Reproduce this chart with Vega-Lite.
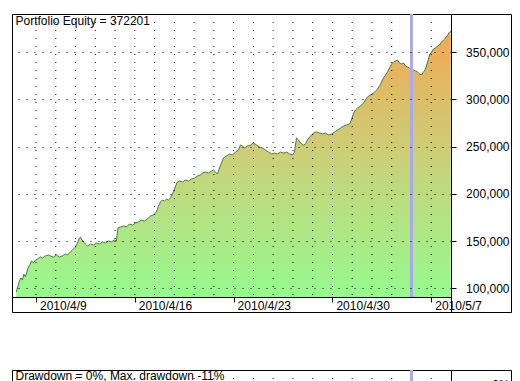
{
  "$schema": "https://vega.github.io/schema/vega-lite/v6.json",
  "background": "white",
  "padding": {"left": 11, "top": 12, "right": 0, "bottom": 0},
  "datasets": {
    "equity": [
      {"t": -1.0, "v": 96300}, {"t": -0.942, "v": 100500}, {"t": -0.84, "v": 107900}, {"t": -0.764, "v": 111100},
      {"t": -0.688, "v": 109000}, {"t": -0.613, "v": 115300}, {"t": -0.537, "v": 112200}, {"t": -0.435, "v": 119600},
      {"t": -0.359, "v": 123800}, {"t": -0.283, "v": 125900}, {"t": -0.233, "v": 129100}, {"t": -0.132, "v": 127000},
      {"t": -0.03, "v": 130100}, {"t": 0.071, "v": 131200}, {"t": 0.223, "v": 133300}, {"t": 0.324, "v": 132200},
      {"t": 0.476, "v": 134400}, {"t": 0.628, "v": 135400}, {"t": 0.729, "v": 134400}, {"t": 0.881, "v": 133300},
      {"t": 1.033, "v": 135400}, {"t": 1.185, "v": 133300}, {"t": 1.336, "v": 134400}, {"t": 1.488, "v": 136500},
      {"t": 1.589, "v": 135400}, {"t": 1.741, "v": 138600}, {"t": 1.843, "v": 140700}, {"t": 1.994, "v": 143900},
      {"t": 2.096, "v": 148100}, {"t": 2.197, "v": 153400}, {"t": 2.248, "v": 154400}, {"t": 2.298, "v": 152300},
      {"t": 2.399, "v": 149200}, {"t": 2.501, "v": 147000}, {"t": 2.602, "v": 144900}, {"t": 2.754, "v": 147000},
      {"t": 2.906, "v": 146000}, {"t": 3.057, "v": 148100}, {"t": 3.209, "v": 147000}, {"t": 3.361, "v": 149200},
      {"t": 3.513, "v": 148100}, {"t": 3.665, "v": 150200}, {"t": 3.817, "v": 149200}, {"t": 3.969, "v": 151300},
      {"t": 4.07, "v": 150200}, {"t": 4.146, "v": 164000}, {"t": 4.272, "v": 165000}, {"t": 4.424, "v": 166100},
      {"t": 4.576, "v": 165000}, {"t": 4.728, "v": 168200}, {"t": 4.88, "v": 167100}, {"t": 5.032, "v": 169200},
      {"t": 5.183, "v": 170300}, {"t": 5.335, "v": 172400}, {"t": 5.487, "v": 171400}, {"t": 5.639, "v": 173500},
      {"t": 5.791, "v": 176600}, {"t": 5.943, "v": 177700}, {"t": 6.095, "v": 180900}, {"t": 6.196, "v": 187200},
      {"t": 6.297, "v": 191400}, {"t": 6.399, "v": 193600}, {"t": 6.5, "v": 192500}, {"t": 6.601, "v": 194600},
      {"t": 6.702, "v": 193600}, {"t": 6.803, "v": 195700}, {"t": 6.905, "v": 199900}, {"t": 7.006, "v": 205200},
      {"t": 7.107, "v": 210500}, {"t": 7.158, "v": 212600}, {"t": 7.259, "v": 213600}, {"t": 7.411, "v": 212600},
      {"t": 7.563, "v": 214700}, {"t": 7.714, "v": 213600}, {"t": 7.866, "v": 215800}, {"t": 8.018, "v": 216800},
      {"t": 8.17, "v": 218900}, {"t": 8.322, "v": 220000}, {"t": 8.423, "v": 222100}, {"t": 8.575, "v": 223200},
      {"t": 8.727, "v": 222100}, {"t": 8.879, "v": 224200}, {"t": 8.98, "v": 225300}, {"t": 9.081, "v": 223200},
      {"t": 9.182, "v": 221000}, {"t": 9.284, "v": 227400}, {"t": 9.385, "v": 232700}, {"t": 9.486, "v": 238000},
      {"t": 9.638, "v": 240100}, {"t": 9.79, "v": 242200}, {"t": 9.942, "v": 241100}, {"t": 10.094, "v": 244300},
      {"t": 10.245, "v": 246400}, {"t": 10.347, "v": 251700}, {"t": 10.448, "v": 250700}, {"t": 10.549, "v": 248500},
      {"t": 10.701, "v": 250700}, {"t": 10.853, "v": 251700}, {"t": 11.005, "v": 253800}, {"t": 11.157, "v": 251700},
      {"t": 11.309, "v": 249600}, {"t": 11.46, "v": 248500}, {"t": 11.612, "v": 246400}, {"t": 11.764, "v": 244300},
      {"t": 11.916, "v": 242200}, {"t": 12.068, "v": 243200}, {"t": 12.22, "v": 242200}, {"t": 12.372, "v": 244300},
      {"t": 12.523, "v": 243200}, {"t": 12.675, "v": 244300}, {"t": 12.827, "v": 242200}, {"t": 12.979, "v": 241100},
      {"t": 13.08, "v": 244300}, {"t": 13.181, "v": 259100}, {"t": 13.283, "v": 257000}, {"t": 13.384, "v": 253800},
      {"t": 13.536, "v": 251700}, {"t": 13.637, "v": 252800}, {"t": 13.738, "v": 257000}, {"t": 13.89, "v": 261200},
      {"t": 14.042, "v": 264400}, {"t": 14.194, "v": 265500}, {"t": 14.346, "v": 264400}, {"t": 14.498, "v": 263300},
      {"t": 14.65, "v": 264400}, {"t": 14.801, "v": 262300}, {"t": 14.953, "v": 263300}, {"t": 15.105, "v": 265500},
      {"t": 15.257, "v": 267600}, {"t": 15.409, "v": 269700}, {"t": 15.561, "v": 271800}, {"t": 15.713, "v": 272900},
      {"t": 15.864, "v": 273900}, {"t": 15.966, "v": 278100}, {"t": 16.067, "v": 285500}, {"t": 16.168, "v": 288700},
      {"t": 16.269, "v": 290800}, {"t": 16.421, "v": 292900}, {"t": 16.573, "v": 296100}, {"t": 16.674, "v": 299300},
      {"t": 16.775, "v": 302500}, {"t": 16.927, "v": 304600}, {"t": 17.079, "v": 306700}, {"t": 17.18, "v": 308800},
      {"t": 17.281, "v": 310900}, {"t": 17.383, "v": 314100}, {"t": 17.484, "v": 318300}, {"t": 17.585, "v": 322500},
      {"t": 17.686, "v": 325700}, {"t": 17.788, "v": 328900}, {"t": 17.889, "v": 333100}, {"t": 17.99, "v": 337300},
      {"t": 18.091, "v": 339500}, {"t": 18.192, "v": 340500}, {"t": 18.294, "v": 341600}, {"t": 18.395, "v": 338400},
      {"t": 18.496, "v": 337300}, {"t": 18.598, "v": 338400}, {"t": 18.699, "v": 335200}, {"t": 18.8, "v": 334200},
      {"t": 18.901, "v": 333100}, {"t": 19.003, "v": 332100}, {"t": 19.104, "v": 331000}, {"t": 19.205, "v": 329900},
      {"t": 19.306, "v": 328900}, {"t": 19.408, "v": 326800}, {"t": 19.509, "v": 325700}, {"t": 19.61, "v": 328900},
      {"t": 19.711, "v": 332100}, {"t": 19.813, "v": 339500}, {"t": 19.914, "v": 346900}, {"t": 20.015, "v": 350000},
      {"t": 20.116, "v": 353200}, {"t": 20.218, "v": 354300}, {"t": 20.319, "v": 356400}, {"t": 20.42, "v": 357400},
      {"t": 20.521, "v": 360600}, {"t": 20.622, "v": 362700}, {"t": 20.724, "v": 364800}, {"t": 20.825, "v": 368000},
      {"t": 20.926, "v": 371200}, {"t": 20.99, "v": 372201}
    ],
    "days": [
      {"t": 0}, {"t": 1}, {"t": 2}, {"t": 3}, {"t": 4}, {"t": 5}, {"t": 6}, {"t": 7}, {"t": 8}, {"t": 9}, {"t": 10},
      {"t": 11}, {"t": 12}, {"t": 13}, {"t": 14}, {"t": 15}, {"t": 16}, {"t": 17}, {"t": 18}, {"t": 19}, {"t": 20}
    ],
    "marker": [{"t": 19}],
    "mainTitle": [{"label": "Portfolio Equity = 372201"}],
    "ddTitle": [{"label": "Drawdown = 0%, Max. drawdown -11%"}],
    "blank": [{"x": 0, "y": 0}]
  },
  "config": {
    "font": "Liberation Sans",
    "view": {"stroke": "black", "strokeWidth": 1},
    "axis": {
      "labelFontSize": 12, "labelColor": "black", "labelFont": "Liberation Sans",
      "tickColor": "black", "tickWidth": 1, "gridColor": "black", "gridDash": [1, 7],
      "gridOpacity": 1, "gridWidth": 1, "domain": false
    }
  },
  "concat": [
    {
      "width": 439,
      "height": 298,
      "layer": [
        {
          "data": {"name": "equity"},
          "mark": {"type": "area", "color": {"gradient": "linear", "x1": 0, "y1": 0, "x2": 0, "y2": 1, "stops": [{"offset": 0, "color": "#f2a855"}, {"offset": 0.5, "color": "#c8d27a"}, {"offset": 1, "color": "#96fa8e"}]}},
          "encoding": {
            "x": {"field": "t", "type": "quantitative", "scale": {"domain": [-1.215, 21], "nice": false, "zero": false},
              "axis": {"orient": "bottom", "offset": -15, "title": null, "values": [0, 5, 10, 15, 20],
                "labelExpr": "datum.value == 0 ? '2010/4/9' : datum.value == 5 ? '2010/4/16' : datum.value == 10 ? '2010/4/23' : datum.value == 15 ? '2010/4/30' : '2010/5/7'",
                "grid": false, "ticks": true, "tickSize": 5,
                "domain": true, "domainColor": "black", "domainWidth": 1,
                "labelAlign": "left", "labelBaseline": "alphabetic", "labelPadding": 7, "labelOffset": 3.5,
                "labelOverlap": false, "labelFlush": false, "labelBound": false}},
            "y": {"field": "v", "type": "quantitative", "scale": {"domain": [91000, 390200], "range": [283, 0], "nice": false, "zero": false},
              "axis": {"orient": "right", "title": null, "values": [100000, 150000, 200000, 250000, 300000, 350000], "format": ",d",
                "grid": true, "zindex": 1, "ticks": true, "tickSize": 5, "labelAlign": "right", "labelBaseline": "middle", "labelPadding": 53,
                "labelOverlap": false, "labelFlush": false, "labelBound": false}},
            "y2": {"datum": 91000}
          }
        },
        {
          "data": {"name": "equity"},
          "mark": {"type": "line", "color": "#4b7a40", "strokeWidth": 1},
          "encoding": {
            "x": {"field": "t", "type": "quantitative"},
            "y": {"field": "v", "type": "quantitative"}
          }
        },
        {
          "data": {"name": "days"},
          "mark": {"type": "rule", "color": "black", "strokeWidth": 1, "strokeDash": [1, 7]},
          "encoding": {
            "x": {"field": "t", "type": "quantitative"},
            "y": {"datum": 390200, "type": "quantitative"},
            "y2": {"datum": 91000}
          }
        },
        {
          "data": {"name": "marker"},
          "mark": {"type": "rule", "color": "#a9a9ee", "strokeWidth": 3},
          "encoding": {
            "x": {"field": "t", "type": "quantitative"},
            "y": {"datum": 390200, "type": "quantitative"},
            "y2": {"datum": 91000}
          }
        },
        {
          "data": {"name": "mainTitle"},
          "mark": {"type": "text", "align": "left", "baseline": "alphabetic", "dx": 3.5, "dy": 10.5, "fontSize": 12, "font": "Liberation Sans", "color": "black"},
          "encoding": {
            "x": {"datum": -1.215, "type": "quantitative"},
            "y": {"datum": 390200, "type": "quantitative"},
            "text": {"field": "label"}
          }
        }
      ]
    },
    {
      "width": 60,
      "height": 298,
      "data": {"name": "blank"},
      "mark": {"type": "point", "opacity": 0},
      "encoding": {
        "x": {"field": "x", "type": "quantitative", "axis": null},
        "y": {"field": "y", "type": "quantitative", "axis": null}
      }
    },
    {
      "width": 439,
      "height": 150,
      "layer": [
        {
          "data": {"name": "days"},
          "mark": {"type": "rule", "color": "black", "strokeWidth": 1, "strokeDash": [1, 7]},
          "encoding": {
            "x": {"field": "t", "type": "quantitative", "scale": {"domain": [-1.215, 21], "nice": false, "zero": false}, "axis": null}
          }
        },
        {
          "data": {"name": "marker"},
          "mark": {"type": "rule", "color": "#a9a9ee", "strokeWidth": 3},
          "encoding": {
            "x": {"field": "t", "type": "quantitative"}
          }
        },
        {
          "data": {"name": "ddTitle"},
          "mark": {"type": "text", "align": "left", "baseline": "alphabetic", "dx": 3.5, "dy": 9.5, "fontSize": 12, "font": "Liberation Sans", "color": "black"},
          "encoding": {
            "x": {"datum": -1.215, "type": "quantitative"},
            "y": {"datum": 1.25, "type": "quantitative", "scale": {"domain": [-12, 1.25], "nice": false, "zero": false},
              "axis": {"orient": "right", "title": null, "values": [0, -5, -10], "labelExpr": "datum.value + '%'",
                "grid": true, "zindex": 1, "ticks": true, "tickSize": 5, "labelAlign": "right", "labelBaseline": "middle", "labelPadding": 53,
                "labelOverlap": false, "labelFlush": false, "labelBound": false}},
            "text": {"field": "label"}
          }
        }
      ]
    },
    {
      "width": 60,
      "height": 150,
      "data": {"name": "blank"},
      "mark": {"type": "point", "opacity": 0},
      "encoding": {
        "x": {"field": "x", "type": "quantitative", "axis": null},
        "y": {"field": "y", "type": "quantitative", "axis": null}
      }
    }
  ],
  "columns": 2,
  "spacing": {"row": 58, "column": 0},
  "bounds": "flush"
}
